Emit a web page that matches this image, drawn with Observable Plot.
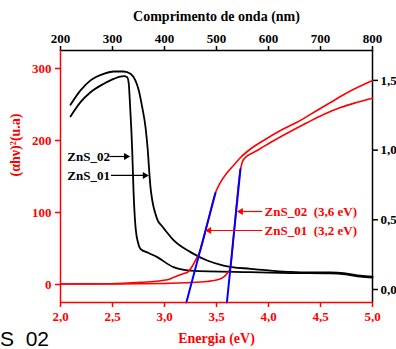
<!DOCTYPE html>
<html><head><meta charset="utf-8">
<script src="https://cdn.jsdelivr.net/npm/d3@7"></script>
<script src="https://cdn.jsdelivr.net/npm/@observablehq/plot@0.6"></script>
<style>
html,body{margin:0;padding:0;background:#fff;overflow:hidden;}
#chart{position:relative;width:396px;height:349px;overflow:hidden;}
#chart svg{position:absolute;left:0;top:0;}
#frag{position:absolute;left:0px;top:328px;font:21px "Liberation Sans",Arial,sans-serif;line-height:1;color:#000;white-space:nowrap;}
</style></head><body>
<div id="chart"></div>
<script>
// ---- Tauc plot (bottom / left axes) ----
const energy01 = [2.0, 2.48, 2.77, 3.03, 3.09, 3.18, 3.22, 3.27, 3.30, 3.34, 3.42, 3.488, 3.538, 3.596, 3.663, 3.731, 3.827, 3.952, 4.115, 4.279, 4.433, 4.596, 4.760, 5.0];
const tauc01   = [0.7, 1, 3, 6.5, 10, 15, 17, 26, 34, 46, 89, 126.8, 141.7, 154.2, 165.3, 176.4, 188.2, 200, 213.9, 225.7, 238.9, 252.8, 266.7, 283.3];
const energy02 = [2.0, 2.77, 3.20, 3.41, 3.54, 3.60, 3.634, 3.665, 3.731, 3.750, 3.788, 3.846, 3.923, 4.019, 4.183, 4.375, 4.529, 4.692, 4.846, 5.0];
const tauc02   = [0.7, 1, 2.5, 4.2, 7.9, 14.9, 24, 68, 160.1, 170.8, 177.8, 182.6, 188.9, 197.2, 210.4, 225, 236.1, 245.8, 252.8, 258.8];
// tangent (band-gap) lines
const tangEnergy01 = [3.21, 3.49], tangTauc01 = [-25, 127];
const tangEnergy02 = [3.60, 3.73], tangTauc02 = [-25, 160];

// ---- Absorbance spectra (top / right axes) ----
const wl01  = [219.2, 238.5, 257.7, 283.3, 302.5, 321.7, 334.6, 344.2, 350.6, 357.1, 363.5, 367.9, 371.2, 373.1, 375.6, 378.8, 382.7, 386.5, 394.2, 401.9, 417.9, 450.0, 482.1, 513.5, 565.4, 603.8, 642.3, 680.8, 719.2, 748.1, 776.9, 800];
const abs01 = [1.325, 1.428, 1.500, 1.547, 1.564, 1.564, 1.547, 1.499, 1.428, 1.308, 1.164, 0.997, 0.818, 0.732, 0.660, 0.595, 0.542, 0.499, 0.459, 0.423, 0.352, 0.268, 0.208, 0.172, 0.148, 0.136, 0.126, 0.122, 0.122, 0.115, 0.100, 0.093];
const wl02  = [219.2, 238.5, 257.7, 283.3, 302.5, 321.7, 328.3, 331.3, 333.3, 336.0, 337.9, 340.4, 343.3, 346.2, 348.1, 353.8, 369.2, 386.0, 417.3, 450.0, 565.4, 642.3, 719.2, 748.1, 776.9, 800];
const abs02 = [1.241, 1.344, 1.415, 1.476, 1.511, 1.530, 1.523, 1.476, 1.356, 1.164, 0.997, 0.710, 0.495, 0.387, 0.352, 0.292, 0.262, 0.232, 0.160, 0.136, 0.124, 0.118, 0.115, 0.108, 0.093, 0.086];

// ticks / domains
const energyTicks = [2.0, 2.5, 3.0, 3.5, 4.0, 4.5, 5.0];
const taucTicks = [0, 100, 200, 300];
const wlTicks = [200, 300, 400, 500, 600, 700, 800];
const absTicks = [0, 0.5, 1.0, 1.5];
const energyDomain = [2, 5], taucDomain = [-25, 325];
const wlDomain = [200, 800], absDomain = [-0.0933, 1.7145];

// annotations
const blackLabels = ["ZnS_02", "ZnS_01"];
const blackLabelWl = [213, 213], blackLabelAbs = [0.954, 0.818];
const blackArrowFrom = [294, 297], blackArrowTo = [330, 366];
const redLabels = ["ZnS_02\u00a0 (3,6 eV)", "ZnS_01\u00a0 (3,2 eV)"];
const redLabelE = [3.962, 3.962], redLabelV = [101.4, 75];
const redArrowFrom = [3.94, 3.94], redArrowTo = [3.715, 3.41];

const comma1 = d => d.toFixed(1).replace(".", ",");
const size = {width: 396, height: 349, marginTop: 50, marginBottom: 47, marginLeft: 60, marginRight: 24};
const style = {fontFamily: "'Liberation Serif', 'Times New Roman', serif", fontSize: "13px", fontWeight: "bold", background: "transparent", overflow: "visible"};
const idx = a => a.map((_, i) => i);

const absPlot = Plot.plot({
  ...size, style,
  x: {domain: wlDomain, axis: null},
  y: {domain: absDomain, axis: null},
  marks: [
    Plot.axisX({anchor: "top", ticks: wlTicks, tickFormat: d => d, stroke: "black", fill: "black", tickSize: 5, tickPadding: 3, strokeWidth: 1.5, label: null}),
    Plot.axisY({anchor: "right", ticks: absTicks, tickFormat: comma1, stroke: "black", fill: "black", tickSize: 5, tickPadding: 3, strokeWidth: 1.5, label: null}),
    Plot.ruleX([wlDomain[1]], {stroke: "black", strokeWidth: 1.5}),
    Plot.ruleY([absDomain[1]], {stroke: "black", strokeWidth: 1.5}),
    Plot.line(idx(wl01), {x: wl01, y: abs01, stroke: "black", strokeWidth: 1.8, curve: "monotone-x"}),
    Plot.line(idx(wl02), {x: wl02, y: abs02, stroke: "black", strokeWidth: 1.8, curve: "monotone-x"}),
    Plot.text(blackLabels, {x: blackLabelWl, y: blackLabelAbs, text: d => d, textAnchor: "start", lineAnchor: "middle", fill: "black", fontSize: 13}),
    Plot.link(blackLabels, {x1: blackArrowFrom, x2: blackArrowTo, y1: blackLabelAbs, y2: blackLabelAbs, stroke: "black", strokeWidth: 1.2}),
    Plot.dot(blackLabels, {x: blackArrowTo, y: blackLabelAbs, symbol: "triangle", rotate: 90, r: 2.6, fill: "black", stroke: null, dx: -2}),
    Plot.text(["Comprimento de onda (nm)"], {frameAnchor: "top", dy: -34, lineAnchor: "middle", fontSize: 14, fill: "black"})
  ]
});

const taucPlot = Plot.plot({
  ...size, style,
  x: {domain: energyDomain, axis: null},
  y: {domain: taucDomain, axis: null},
  marks: [
    Plot.axisX({anchor: "bottom", ticks: energyTicks, tickFormat: comma1, stroke: "red", fill: "red", tickSize: 5, tickPadding: 4, strokeWidth: 1.5, label: null}),
    Plot.axisY({anchor: "left", ticks: taucTicks, tickFormat: d => d, stroke: "red", fill: "red", tickSize: 5, tickPadding: 4, strokeWidth: 1.5, label: null}),
    Plot.line(idx(energy01), {x: energy01, y: tauc01, stroke: "red", strokeWidth: 1.6, curve: "monotone-x"}),
    Plot.line(idx(energy02), {x: energy02, y: tauc02, stroke: "red", strokeWidth: 1.6, curve: "monotone-x"}),
    Plot.line(idx(tangEnergy01), {x: tangEnergy01, y: tangTauc01, stroke: "blue", strokeWidth: 2}),
    Plot.line(idx(tangEnergy02), {x: tangEnergy02, y: tangTauc02, stroke: "blue", strokeWidth: 2}),
    Plot.ruleX([energyDomain[0]], {stroke: "red", strokeWidth: 1.5}),
    Plot.ruleY([taucDomain[0]], {stroke: "red", strokeWidth: 1.5}),
    Plot.text(redLabels, {x: redLabelE, y: redLabelV, text: d => d, textAnchor: "start", lineAnchor: "middle", fill: "red", fontSize: 13}),
    Plot.link(redLabels, {x1: redArrowFrom, x2: redArrowTo, y1: redLabelV, y2: redLabelV, stroke: "red", strokeWidth: 1.2}),
    Plot.dot(redLabels, {x: redArrowTo, y: redLabelV, symbol: "triangle", rotate: -90, r: 2.6, fill: "red", stroke: null, dx: 2}),
    Plot.text(["Energia (eV)"], {frameAnchor: "bottom", dy: 36.5, lineAnchor: "middle", fontSize: 14, fill: "red"}),
    Plot.text(["(\u03b1h\u03bd)\u00b2(u.a)"], {frameAnchor: "left", dx: -45, rotate: -90, lineAnchor: "middle", fontSize: 14, fill: "red"})
  ]
});

const chart = document.getElementById("chart");
chart.appendChild(absPlot);
chart.appendChild(taucPlot);
const frag = document.createElement("div");
frag.id = "frag";
frag.textContent = "S_02";
chart.appendChild(frag);
</script>
</body></html>
